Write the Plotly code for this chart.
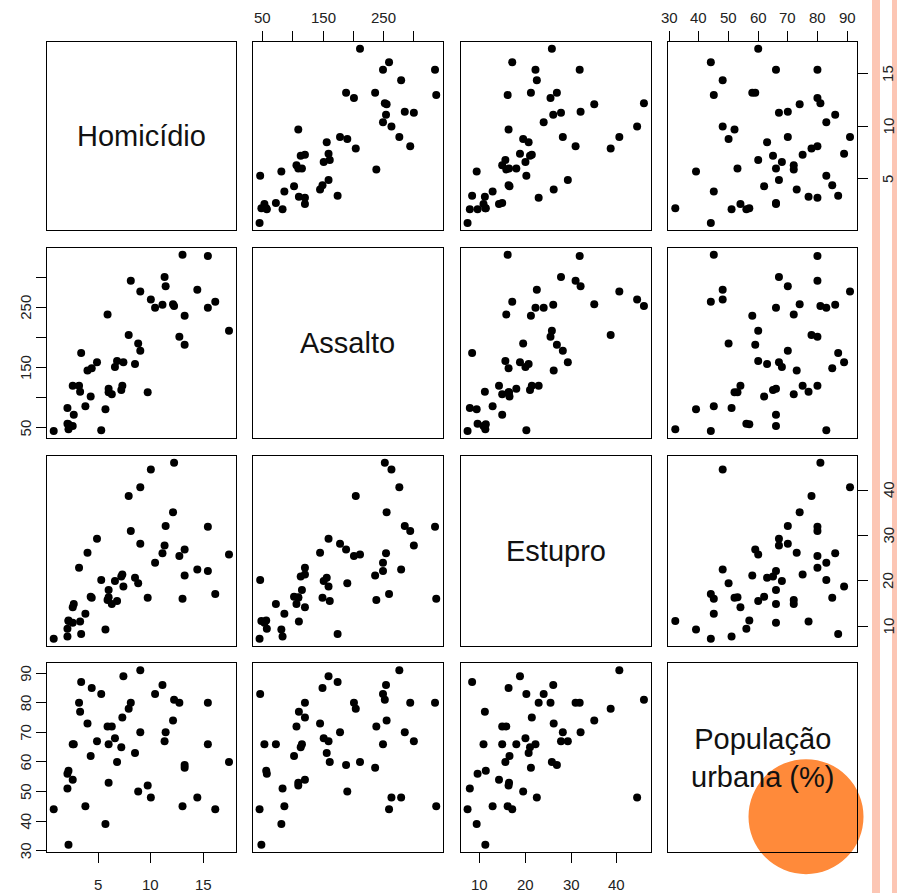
import plotly.graph_objects as go

# USArrests (order: Murder, Assault, Rape, UrbanPop)
murder = [13.2, 10.0, 8.1, 8.8, 9.0, 7.9, 3.3, 5.9, 15.4, 17.4, 5.3, 2.6, 10.4, 7.2, 2.2, 6.0, 9.7,
          15.4, 2.1, 11.3, 4.4, 12.1, 2.7, 16.1, 9.0, 6.0, 4.3, 12.2, 2.1, 7.4, 11.4, 11.1, 13.0, 0.8,
          7.3, 6.6, 4.9, 6.3, 3.4, 14.4, 3.8, 13.2, 12.7, 3.2, 2.2, 8.5, 4.0, 5.7, 2.6, 6.8]
assault = [236, 263, 294, 190, 276, 204, 110, 238, 335, 211, 46, 120, 249, 113, 56, 115, 109,
           249, 83, 300, 149, 255, 72, 259, 178, 109, 102, 252, 57, 159, 285, 254, 337, 45,
           120, 151, 159, 106, 174, 279, 86, 188, 201, 120, 48, 156, 145, 81, 53, 161]
rape = [21.2, 44.5, 31.0, 19.5, 40.6, 38.7, 11.1, 15.8, 31.9, 25.8, 20.2, 14.2, 24.0, 21.0, 11.3,
        18.0, 16.3, 22.2, 7.8, 27.8, 16.3, 35.1, 14.9, 17.1, 28.2, 16.4, 16.5, 46.0, 9.5, 18.8,
        32.1, 26.1, 16.1, 7.3, 21.4, 20.0, 29.3, 14.9, 8.3, 22.5, 12.8, 26.9, 25.5, 22.9, 11.2,
        20.7, 26.2, 9.3, 10.8, 15.6]
urbanpop = [58, 48, 80, 50, 91, 78, 77, 72, 80, 60, 83, 54, 83, 65, 57, 66, 52, 66, 51, 67, 85,
            74, 66, 44, 70, 53, 62, 81, 56, 89, 70, 86, 45, 44, 75, 68, 67, 72, 87, 48, 45, 59,
            80, 80, 32, 63, 73, 39, 66, 60]

var_names = ["Homicídio", "Assalto", "Estupro", "População<br>urbana (%)"]
tick_vals = [[5, 10, 15], [50, 100, 150, 200, 250, 300], [10, 20, 30, 40],
             [30, 40, 50, 60, 70, 80, 90]]
tick_text = [["5", "10", "15"], ["50", "", "150", "", "250", ""], ["10", "20", "30", "40"],
             ["30", "40", "50", "60", "70", "80", "90"]]
data = [murder, assault, rape, urbanpop]

W, H = 897, 893
col_l = [46.7, 252.5, 460.5, 668.3]
col_r = [236.0, 443.3, 651.0, 857.0]
row_t = [41.7, 247.7, 455.7, 663.3]
row_b = [230.0, 438.0, 645.7, 851.7]
lab_left_x = 25.5
lab_right_x = 888.0
lab_top_y = 18.0
lab_bottom_y = 884.5


def rng(v):
    lo, hi = min(v), max(v)
    d = (hi - lo) * 0.04
    return [lo - d, hi + d]


fig = go.Figure()
layout = {}
annotations = []
tick_font = dict(family="Liberation Sans, Arial, sans-serif", size=15, color="#222")


def tick_label(text, xref, yref, x, y, angle):
    return dict(text=text, xref=xref, yref=yref, x=x, y=y, xanchor="center",
                yanchor="middle", textangle=angle, showarrow=False, font=tick_font,
                borderpad=0)


for i in range(4):
    for j in range(4):
        k = i * 4 + j + 1
        xa = "xaxis" if k == 1 else f"xaxis{k}"
        ya = "yaxis" if k == 1 else f"yaxis{k}"
        xr = "x" if k == 1 else f"x{k}"
        yr = "y" if k == 1 else f"y{k}"
        base = dict(showline=True, mirror=True, linecolor="black", linewidth=1,
                    showgrid=False, zeroline=False, ticks="", showticklabels=False,
                    fixedrange=True, automargin=False)
        xd = dict(base, domain=[col_l[j] / W, col_r[j] / W], anchor=yr)
        yd = dict(base, domain=[1 - row_b[i] / H, 1 - row_t[i] / H], anchor=xr)
        if i == j:
            xd["range"] = [0, 1]
            yd["range"] = [0, 1]
            fig.add_trace(go.Scatter(x=[0.5], y=[0.5], mode="markers",
                                     marker=dict(size=1, color="rgba(0,0,0,0)"),
                                     xaxis=xr, yaxis=yr, showlegend=False, hoverinfo="skip"))
            annotations.append(dict(text=var_names[i], xref=f"{xr} domain", yref=f"{yr} domain",
                                    x=0.5, y=0.5, showarrow=False,
                                    font=dict(family="Liberation Sans, Arial, sans-serif",
                                              size=29, color="#111")))
        else:
            xd["range"] = rng(data[j])
            yd["range"] = rng(data[i])
            fig.add_trace(go.Scatter(x=data[j], y=data[i], mode="markers",
                                     marker=dict(size=8, color="black"),
                                     xaxis=xr, yaxis=yr, showlegend=False))
        tick_style = dict(ticks="outside", ticklen=10, tickcolor="black", tickwidth=1)
        # x axes
        if i == 0 and j in (1, 3):
            xd.update(side="top", tickvals=tick_vals[j], **tick_style)
            for tv, tt in zip(tick_vals[j], tick_text[j]):
                if tt:
                    annotations.append(tick_label(tt, xr, "paper", tv, 1 - lab_top_y / H, 0))
        if i == 3 and j in (0, 2):
            xd.update(side="bottom", tickvals=tick_vals[j], **tick_style)
            for tv, tt in zip(tick_vals[j], tick_text[j]):
                if tt:
                    annotations.append(tick_label(tt, xr, "paper", tv, 1 - lab_bottom_y / H, 0))
        # y axes
        if j == 0 and i in (1, 3):
            yd.update(side="left", tickvals=tick_vals[i], **tick_style)
            for tv, tt in zip(tick_vals[i], tick_text[i]):
                if tt:
                    annotations.append(tick_label(tt, "paper", yr, lab_left_x / W, tv, -90))
        if j == 3 and i in (0, 2):
            yd.update(side="right", tickvals=tick_vals[i], **tick_style)
            for tv, tt in zip(tick_vals[i], tick_text[i]):
                if tt:
                    annotations.append(tick_label(tt, "paper", yr, lab_right_x / W, tv, -90))
        layout[xa] = xd
        layout[ya] = yd

shapes = [
    dict(type="rect", xref="paper", yref="paper", x0=872 / W, x1=880 / W, y0=0, y1=1,
         fillcolor="#FCC6B4", line=dict(width=0), layer="below"),
    dict(type="rect", xref="paper", yref="paper", x0=892 / W, x1=1.01, y0=0, y1=1,
         fillcolor="#FCC6B4", line=dict(width=0), layer="below"),
    dict(type="circle", xref="paper", yref="paper", x0=(806 - 57.5) / W, x1=(806 + 57.5) / W,
         y0=1 - (816.7 + 57.5) / H, y1=1 - (816.7 - 57.5) / H,
         fillcolor="#FF8A3A", line=dict(width=0), layer="below"),
]

fig.update_layout(**layout)
fig.update_layout(width=W, height=H, margin=dict(l=0, r=0, t=0, b=0, autoexpand=False),
                  paper_bgcolor="white", plot_bgcolor="rgba(0,0,0,0)",
                  annotations=annotations, shapes=shapes, showlegend=False)
fig.write_html("out.html", config={"displayModeBar": False})
